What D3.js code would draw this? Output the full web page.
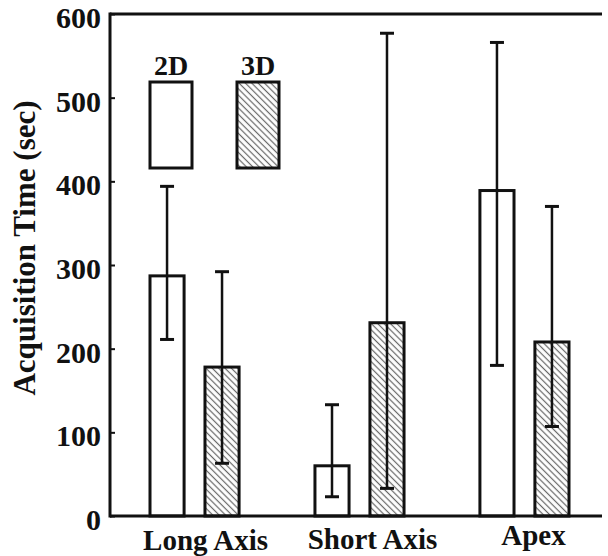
<!DOCTYPE html>
<html>
<head>
<meta charset="utf-8">
<script src="https://cdn.jsdelivr.net/npm/d3@7"></script>
<style>
  body { margin: 0; background: #fff; }
  text { font-family: "Liberation Serif", "Times New Roman", serif; font-weight: bold; fill: #111; }
</style>
</head>
<body>
<div id="chart"></div>
<script>
// donnees
const categories = ["Long Axis", "Short Axis", "Apex"];
const series = ["2D", "3D"];
const mean2D = [287, 60, 389];
const low2D = [211, 23, 180];
const high2D = [394, 133, 566];
const mean3D = [178, 231, 208];
const low3D = [63, 33, 107];
const high3D = [292, 577, 370];
const yTicks = [0, 100, 200, 300, 400, 500, 600];

const width = 608, height = 556;
const margin = {top: 14, right: 6, bottom: 40, left: 110};

const svg = d3.select("#chart").append("svg")
    .attr("width", width).attr("height", height);

// motif hachure
const defs = svg.append("defs");
const pat = defs.append("pattern")
    .attr("id", "hatch")
    .attr("patternUnits", "userSpaceOnUse")
    .attr("width", 4.5).attr("height", 4.5)
    .attr("patternTransform", "rotate(45)");
pat.append("rect").attr("width", 4.5).attr("height", 4.5).attr("fill", "#fff");
pat.append("line")
    .attr("x1", 0).attr("y1", 2.25).attr("x2", 4.5).attr("y2", 2.25)
    .attr("stroke", "#666").attr("stroke-width", 1.2);

const x = d3.scaleBand()
    .domain(categories)
    .range([150, 569])
    .paddingInner(0.46).paddingOuter(0);
const xs = d3.scaleBand()
    .domain(series)
    .range([0, x.bandwidth()])
    .paddingInner(0.38);
const y = d3.scaleLinear()
    .domain([0, 600])
    .range([height - margin.bottom, margin.top]);

const g = svg.append("g");

// barres
const data = [];
categories.forEach((c, i) => {
    data.push({cat: c, s: "2D", v: mean2D[i], lo: low2D[i], hi: high2D[i]});
    data.push({cat: c, s: "3D", v: mean3D[i], lo: low3D[i], hi: high3D[i]});
});

g.selectAll("rect.bar")
    .data(data)
    .enter()
    .append("rect")
    .attr("class", "bar")
    .attr("x", d => x(d.cat) + xs(d.s))
    .attr("y", d => y(d.v))
    .attr("width", xs.bandwidth())
    .attr("height", d => y(0) - y(d.v))
    .attr("fill", d => d.s === "2D" ? "#fff" : "url(#hatch)")
    .attr("stroke", "#111")
    .attr("stroke-width", 3);

// barres d'erreur
const cx = d => x(d.cat) + xs(d.s) + xs.bandwidth() / 2;
g.selectAll("line.err")
    .data(data)
    .enter()
    .append("line")
    .attr("x1", cx).attr("x2", cx)
    .attr("y1", d => y(d.lo)).attr("y2", d => y(d.hi))
    .attr("stroke", "#111").attr("stroke-width", 2.5);
["lo", "hi"].forEach(k => {
    g.selectAll("line.cap" + k)
        .data(data)
        .enter()
        .append("line")
        .attr("x1", d => cx(d) - 7).attr("x2", d => cx(d) + 7)
        .attr("y1", d => y(d[k])).attr("y2", d => y(d[k]))
        .attr("stroke", "#111").attr("stroke-width", 3);
});

// axes
const yAxis = d3.axisLeft(y).tickValues(yTicks).tickSize(-5).tickPadding(9);
const ya = svg.append("g")
    .attr("transform", `translate(${margin.left},0)`)
    .call(yAxis);
ya.select(".domain").remove();
ya.selectAll(".tick line").attr("stroke", "#111").attr("stroke-width", 2);
ya.selectAll(".tick text")
    .style("font-size", "30px")
    .attr("fill", "#111")
    .attr("dy", "0.45em");

svg.append("line")
    .attr("x1", margin.left).attr("x2", margin.left)
    .attr("y1", y(600) - 1.5).attr("y2", y(0) + 1.5)
    .attr("stroke", "#111").attr("stroke-width", 3);
svg.append("line")
    .attr("x1", margin.left).attr("x2", width - margin.right)
    .attr("y1", y(600)).attr("y2", y(600))
    .attr("stroke", "#111").attr("stroke-width", 3);
svg.append("line")
    .attr("x1", margin.left).attr("x2", width - margin.right)
    .attr("y1", y(0)).attr("y2", y(0))
    .attr("stroke", "#111").attr("stroke-width", 3);

// etiquettes categories
const labelShift = [11, 13, 9];
const labelBase = [550, 549, 545];
svg.selectAll("text.cat")
    .data(categories)
    .enter()
    .append("text")
    .attr("class", "cat")
    .attr("x", (d, i) => x(d) + x.bandwidth() / 2 + labelShift[i])
    .attr("y", (d, i) => labelBase[i])
    .attr("text-anchor", "middle")
    .style("font-size", "29px")
    .text(d => d);

// titre axe y
svg.append("text")
    .attr("transform", "translate(28,248) rotate(-90)")
    .attr("text-anchor", "middle")
    .attr("dominant-baseline", "middle")
    .style("font-size", "31px")
    .text("Acquisition Time (sec)");

// legende
const leg = svg.append("g");
const legX = [150, 237];
series.forEach((s, i) => {
    leg.append("rect")
        .attr("x", legX[i]).attr("y", 82)
        .attr("width", 42).attr("height", 86)
        .attr("fill", s === "2D" ? "#fff" : "url(#hatch)")
        .attr("stroke", "#111").attr("stroke-width", 3);
    leg.append("text")
        .attr("x", legX[i] + 21).attr("y", 75)
        .attr("text-anchor", "middle")
        .style("font-size", "28px")
        .text(s);
});
</script>
</body>
</html>
